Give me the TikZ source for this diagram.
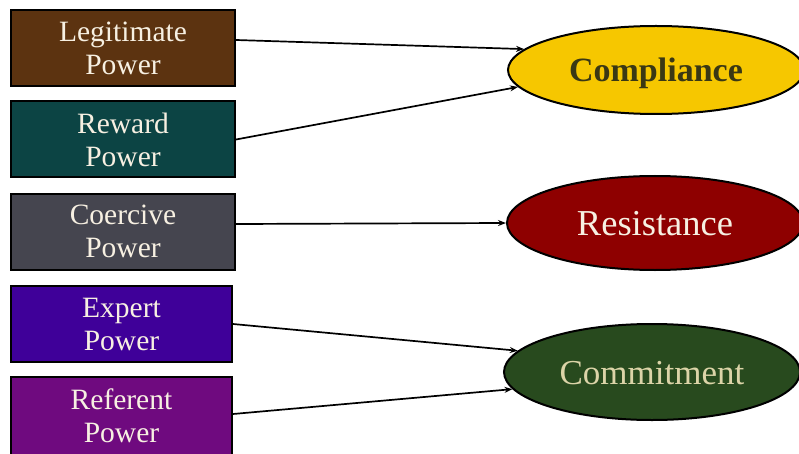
\documentclass[tikz,border=0pt]{standalone}
\usepackage{fontspec}
\setmainfont{Liberation Serif}
\usetikzlibrary{shapes.geometric,arrows.meta,calc}
\definecolor{cLeg}{HTML}{5C3310}
\definecolor{cRew}{HTML}{0C4444}
\definecolor{cCoe}{HTML}{45454F}
\definecolor{cExp}{HTML}{3F0099}
\definecolor{cRef}{HTML}{6F0A7F}
\definecolor{cComp}{HTML}{F6C700}
\definecolor{cRes}{HTML}{8E0000}
\definecolor{cCom}{HTML}{284A1E}
\definecolor{boxtext}{HTML}{F7F0E2}
\definecolor{comptext}{HTML}{3A3814}
\definecolor{comtext}{HTML}{DCD4A8}
\tikzset{
  powerbox/.style={draw=black, line width=2pt, minimum height=76pt, inner sep=0pt,
    text=boxtext, align=center, font=\fontsize{29.5}{33}\selectfont},
  outcome/.style={ellipse, draw=black, line width=2pt, minimum width=296pt, inner sep=0pt,
    text height=31pt, text depth=7pt},
  conn/.style={line width=1.7pt, -{Stealth[length=8pt,width=6pt]}}
}
\begin{document}
\begin{tikzpicture}[x=1pt,y=1pt]
\useasboundingbox (0,0) rectangle (799,453);
\clip (0,0) rectangle (799,453);
\fill[white] (0,0) rectangle (799,453);
\node[powerbox, fill=cLeg, minimum width=224pt] (leg) at (123,405) {Legitimate\\Power};
\node[powerbox, fill=cRew, minimum width=224pt] (rew) at (123,313.5) {Reward\\Power};
\node[powerbox, fill=cCoe, minimum width=224pt] (coe) at (123,221.5) {Coercive\\Power};
\node[powerbox, fill=cExp, minimum width=221pt] (exp) at (121.5,129) {Expert\\Power};
\node[powerbox, fill=cRef, minimum width=221pt, minimum height=78pt] (ref) at (121.5,37) {Referent\\Power};
\node[outcome, fill=cComp, minimum height=88pt, text=comptext, font=\fontsize{34}{38}\selectfont\bfseries] (comp) at (656,383) {Compliance};
\node[outcome, fill=cRes, minimum height=94pt, text=boxtext, font=\fontsize{36.5}{40}\selectfont] (res) at (655,230) {Resistance};
\node[outcome, fill=cCom, minimum height=96pt, text=comtext, font=\fontsize{35}{40}\selectfont] (com) at (652,81) {Commitment};
\draw[conn] ($(leg.east)+(0,8)$) -- (comp.171);
\draw[conn] (rew.east) -- (comp.187);
\draw[conn] ($(coe.east)+(0,7.5)$) -- (res.west);
\draw[conn] (exp.east) -- (com.171);
\draw[conn] ($(ref.east)+(0,2)$) -- (com.187);
\end{tikzpicture}
\end{document}
